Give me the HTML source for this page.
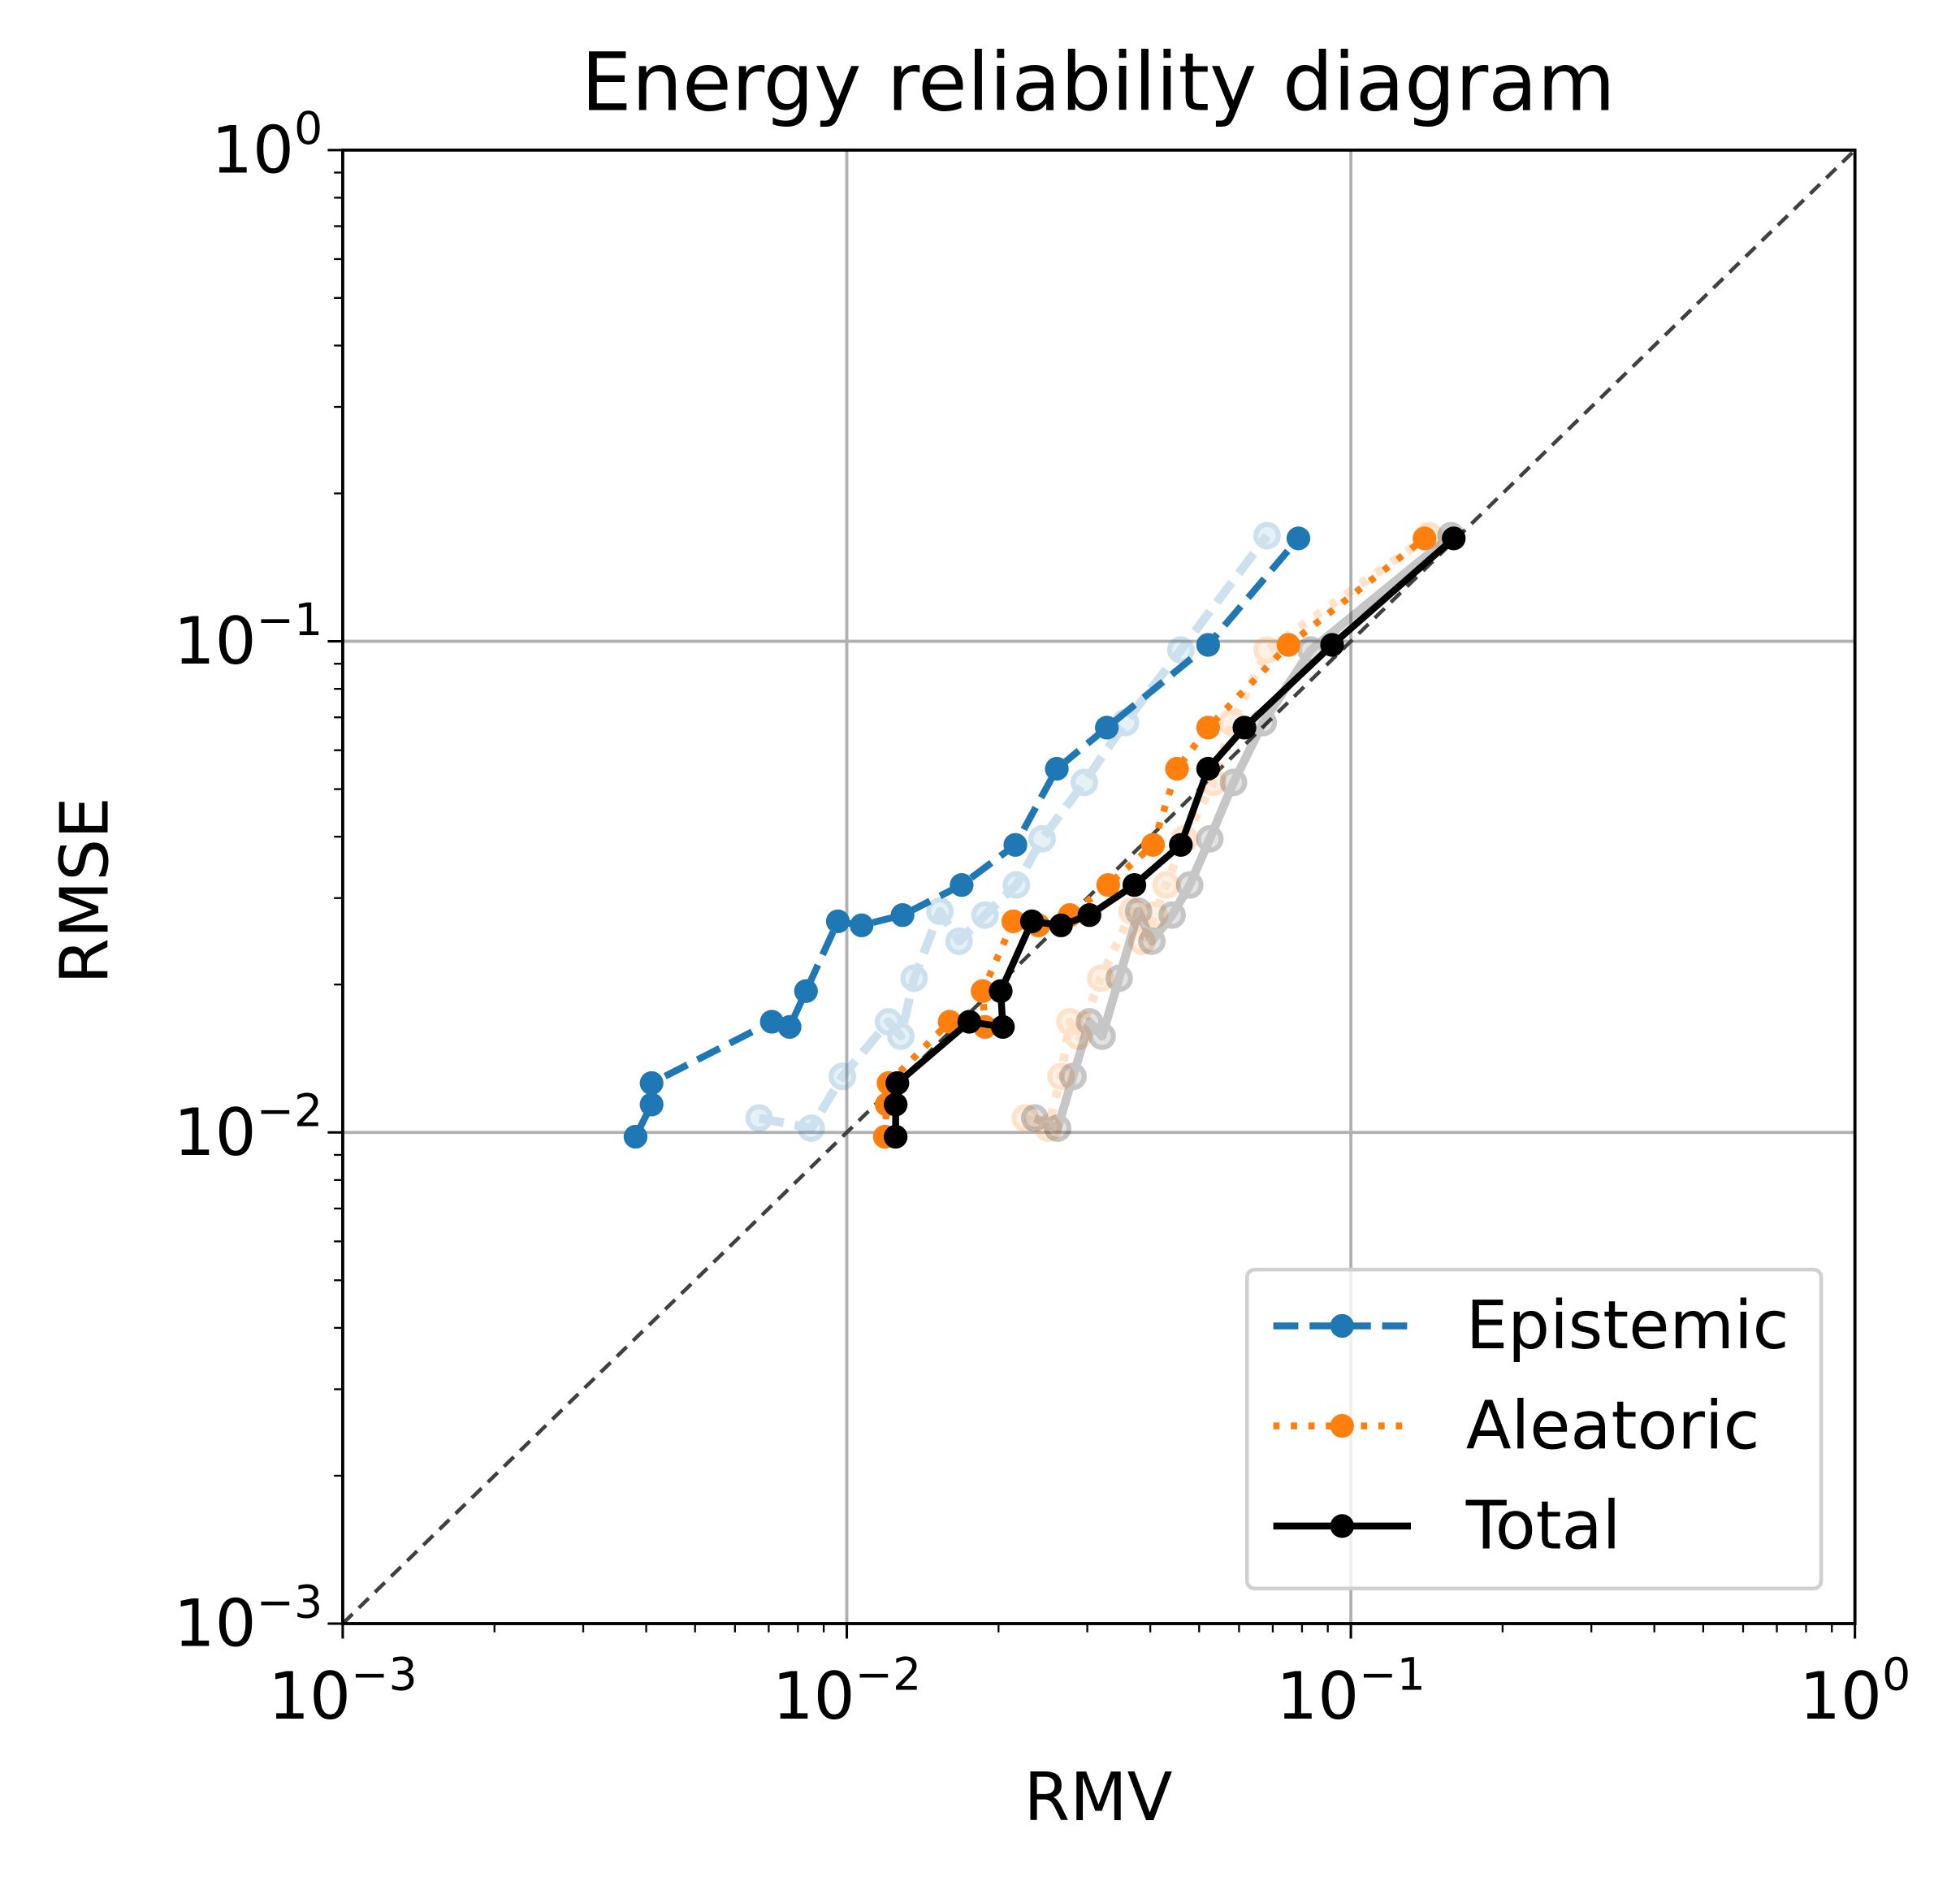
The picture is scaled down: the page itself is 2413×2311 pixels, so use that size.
<!DOCTYPE html>
<html><head><meta charset="utf-8"><style>
html,body{margin:0;padding:0;background:#fff}
svg{display:block}
text{font-family:"DejaVu Sans","Liberation Sans",sans-serif;fill:#000}
</style></head><body>
<svg id="chart" width="2413" height="2311" viewBox="0 0 1567 1500.6" preserveAspectRatio="none" xmlns="http://www.w3.org/2000/svg">
<text x="878" y="88" font-size="64" text-anchor="middle">Energy reliability diagram</text>
<text x="878" y="1455" font-size="53" text-anchor="middle">RMV</text>
<text x="86" y="712" font-size="53" text-anchor="middle" transform="rotate(-90 86 712)">RMSE</text>
<g id="grid"></g><g id="series"></g><g id="axes"></g><g id="legend"></g>
</svg>
<script>
const epiX=[0.00381,0.0041,0.0041,0.0071,0.0077,0.0083,0.0096,0.0107,0.0129,0.0169,0.0216,0.0261,0.0328,0.0521,0.0787];
const aleX=[0.0119,0.0120,0.0121,0.016,0.0188,0.0186,0.0214,0.024,0.0277,0.033,0.0405,0.0452,0.0521,0.0752,0.140];
const totX=[0.0125,0.0125,0.0126,0.0175,0.0204,0.0202,0.0233,0.0266,0.0303,0.0372,0.046,0.0521,0.0615,0.0918,0.160];
const rmseY=[0.0098,0.0114,0.0126,0.0168,0.0164,0.0194,0.0269,0.0264,0.0277,0.0319,0.0385,0.055,0.0667,0.0983,0.162];
const fEpiX=[0.0067,0.0085,0.0098,0.0121,0.0128,0.0136,0.0153,0.0167,0.0188,0.0217,0.0244,0.0296,0.0357,0.046,0.0682];
const fAleX=[0.0226,0.0251,0.0266,0.0277,0.0288,0.0319,0.0368,0.0385,0.0408,0.043,0.0468,0.0533,0.0581,0.0682,0.143];
const fTotX=[0.0236,0.0262,0.0281,0.0303,0.0321,0.0347,0.0379,0.0403,0.0442,0.0479,0.0525,0.0585,0.067,0.0833,0.158];
const fRmseY=[0.0107,0.0102,0.013,0.0168,0.0157,0.0206,0.0282,0.0245,0.0277,0.0319,0.0396,0.0516,0.0683,0.096,0.164];
const decades=[-3,-2,-1,0];
const tickExp=["\u22123","\u22122","\u22121","0"];

const L=274,R=1483,T=120,B=1298;
const xs=v=>L+(Math.log10(v)+3)/3*(R-L);
const ys=v=>B-(Math.log10(v)+3)/3*(B-T);
const NS="http://www.w3.org/2000/svg";
function mk(tag,attrs,parent){const e=document.createElementNS(NS,tag);for(const k in attrs)e.setAttribute(k,attrs[k]);parent.appendChild(e);return e;}
const grid=document.getElementById('grid'),series=document.getElementById('series'),axes=document.getElementById('axes'),legend=document.getElementById('legend');

decades.forEach(d=>{
  const v=Math.pow(10,d);
  if(d>-3&&d<0){
    const gx=mk('line',{x1:xs(v),x2:xs(v),y1:T,y2:B,stroke:'#b0b0b0','stroke-width':2.5},grid);
    
    
    const gy=mk('line',{x1:L,x2:R,y1:ys(v),y2:ys(v),stroke:'#b0b0b0','stroke-width':2.5},grid);
    
    
  }
});
const diag=mk('line',{x1:xs(0.001),y1:ys(0.001),x2:xs(1),y2:ys(1),stroke:'#404040','stroke-width':3,'stroke-dasharray':'11,7'},grid);



function drawSeries(X,Y,color,dash,opacity,name,hollow){
  const g=mk('g',{opacity:opacity},series);
  
  
  const pts=X.map((x,i)=>xs(x)+','+ys(Y[i])).join(' ');
  const attrs={points:pts,fill:'none',stroke:color,'stroke-width':hollow?7:5.5,'stroke-linejoin':'round'};
  if(dash)attrs['stroke-dasharray']=dash;
  mk('polyline',attrs,g);
  X.forEach((x,i)=>{
    const c=mk('circle',{cx:xs(x),cy:ys(Y[i]),r:hollow?9:9.5,fill:color,stroke:hollow?color:'none','stroke-width':hollow?4:0,'fill-opacity':hollow?0.5:1},g);
    
    
  });
}
drawSeries(fEpiX,fRmseY,'#1f77b4','20,9',0.22,'epistemic-faded',true);
drawSeries(fAleX,fRmseY,'#ff7f0e','6,9',0.22,'aleatoric-faded',true);
drawSeries(fTotX,fRmseY,'#000000',null,0.22,'total-faded',true);
drawSeries(epiX,rmseY,'#1f77b4','20,9',1,'epistemic-series',false);
drawSeries(aleX,rmseY,'#ff7f0e','5,9',1,'aleatoric-series',false);
drawSeries(totX,rmseY,'#000000',null,1,'total-series',false);

const frame=mk('rect',{x:L,y:T,width:R-L,height:B-T,fill:'none',stroke:'#000','stroke-width':2.5},axes);


decades.forEach((d,i)=>{
  const v=Math.pow(10,d);
  mk('line',{x1:xs(v),x2:xs(v),y1:B,y2:B+12,stroke:'#000','stroke-width':2},axes);
  mk('line',{x1:L-12,x2:L,y1:ys(v),y2:ys(v),stroke:'#000','stroke-width':2},axes);
  const tx=mk('text',{x:xs(v),y:B+76,'font-size':52,'text-anchor':'middle'},axes);
  
  
  tx.innerHTML='10<tspan dy="-23" font-size="36">'+tickExp[i]+'</tspan>';
  const ty=mk('text',{x:L-16,y:ys(v)+18,'font-size':52,'text-anchor':'end'},axes);
  
  
  ty.innerHTML='10<tspan dy="-23" font-size="36">'+tickExp[i]+'</tspan>';
  if(d<0){for(let m=2;m<10;m++){const mv=m*v;
    mk('line',{x1:xs(mv),x2:xs(mv),y1:B,y2:B+7,stroke:'#000','stroke-width':1.5},axes);
    mk('line',{x1:L-7,x2:L,y1:ys(mv),y2:ys(mv),stroke:'#000','stroke-width':1.5},axes);}}
});

const box=mk('rect',{x:997,y:1015,width:459,height:255,rx:6,fill:'#fff','fill-opacity':0.8,stroke:'#d0d0d0','stroke-width':3},legend);


const legItems=[['Epistemic','#1f77b4','20,9',1060],['Aleatoric','#ff7f0e','5,9',1140],['Total','#000',null,1220]];
legItems.forEach(it=>{
  const g=mk('g',{},legend);
  
  
  const a={x1:1018,x2:1128,y1:it[3],y2:it[3],stroke:it[1],'stroke-width':5.5};
  if(it[2])a['stroke-dasharray']=it[2];
  mk('line',a,g);
  mk('circle',{cx:1073,cy:it[3],r:9.5,fill:it[1]},g);
  const t=mk('text',{x:1172,y:it[3]+18,'font-size':53},g);
  t.textContent=it[0];
});
</script>
</body></html>
